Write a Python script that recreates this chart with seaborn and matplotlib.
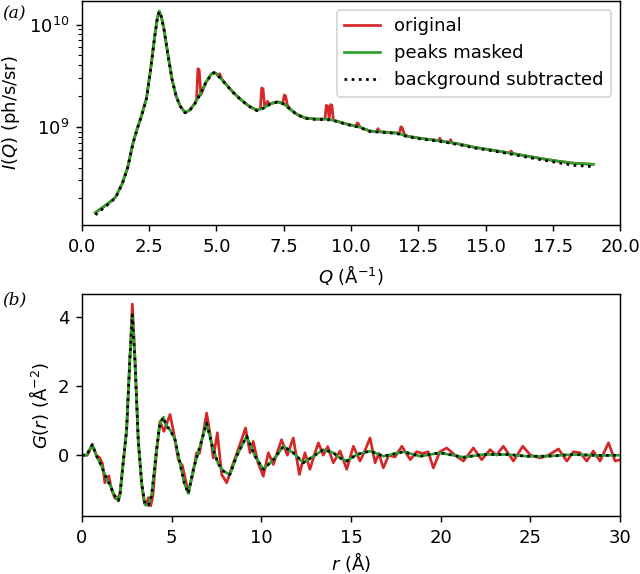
import numpy as np
import matplotlib
matplotlib.use("Agg")
import matplotlib.pyplot as plt
from matplotlib.ticker import MultipleLocator
import seaborn as sns

# --- (a) intensity vs Q ---
q_masked = [0.5, 0.8, 1.0, 1.25, 1.5, 1.7, 1.9, 2.05, 2.2, 2.4, 2.55, 2.7, 2.8, 2.87,
            2.95, 3.05, 3.2, 3.35, 3.5, 3.65, 3.83, 4.0, 4.2, 4.4, 4.6, 4.8, 4.9, 5.0,
            5.25, 5.6, 5.9, 6.2, 6.5, 6.8, 7.0, 7.25, 7.5, 7.75, 8.0, 8.3, 8.7, 9.1,
            9.4, 9.7, 10.0, 10.3, 10.7, 11.2, 11.7, 12.1, 12.6, 13.3, 14.0, 14.6,
            15.2, 15.8, 16.4, 17.0, 17.6, 18.3, 19.0]
i_masked = [1.45e8, 1.65e8, 1.8e8, 2.05e8, 2.8e8, 4.0e8, 7.0e8, 9.5e8, 1.25e9, 1.9e9,
            3.6e9, 7.5e9, 1.15e10, 1.35e10, 1.2e10, 9.0e9, 5.0e9, 2.9e9, 2.0e9, 1.6e9,
            1.38e9, 1.45e9, 1.7e9, 2.1e9, 2.7e9, 3.25e9, 3.4e9, 3.3e9, 2.8e9, 2.2e9,
            1.85e9, 1.6e9, 1.45e9, 1.55e9, 1.68e9, 1.75e9, 1.68e9, 1.48e9, 1.32e9,
            1.22e9, 1.19e9, 1.19e9, 1.15e9, 1.09e9, 1.04e9, 1.0e9, 9.1e8, 8.9e8,
            8.7e8, 8.1e8, 7.7e8, 7.3e8, 6.8e8, 6.3e8, 5.95e8, 5.6e8, 5.25e8, 4.93e8,
            4.65e8, 4.4e8, 4.3e8]
i_bgsub = [1.38e8, 1.6e8, 1.77e8, 2.02e8, 2.77e8, 3.97e8, 6.95e8, 9.45e8, 1.24e9, 1.89e9,
           3.58e9, 7.45e9, 1.14e10, 1.34e10, 1.19e10, 8.95e9, 4.97e9, 2.88e9, 1.99e9, 1.59e9,
           1.37e9, 1.44e9, 1.69e9, 2.09e9, 2.68e9, 3.23e9, 3.38e9, 3.28e9, 2.78e9, 2.19e9,
           1.84e9, 1.59e9, 1.44e9, 1.54e9, 1.67e9, 1.74e9, 1.67e9, 1.47e9, 1.31e9,
           1.21e9, 1.18e9, 1.18e9, 1.14e9, 1.08e9, 1.03e9, 9.9e8, 9.0e8, 8.8e8,
           8.6e8, 8.0e8, 7.6e8, 7.2e8, 6.7e8, 6.2e8, 5.85e8, 5.5e8, 5.12e8, 4.8e8,
           4.5e8, 4.2e8, 4.08e8]
q_orig = [0.5, 0.8, 1.0, 1.25, 1.5, 1.7, 1.9, 2.05, 2.2, 2.4, 2.55, 2.7, 2.8, 2.87,
          2.95, 3.05, 3.2, 3.35, 3.5, 3.65, 3.83, 4.0, 4.2, 4.26, 4.31, 4.36, 4.42,
          4.6, 4.8, 4.9, 5.0, 5.06, 5.12, 5.18, 5.25, 5.6, 5.9, 6.2, 6.5, 6.63, 6.68,
          6.73, 6.79, 6.85, 6.9, 6.95, 7.0, 7.25, 7.47, 7.52, 7.57, 7.63, 7.75, 8.0,
          8.3, 8.7, 9.03, 9.08, 9.13, 9.19, 9.24, 9.29, 9.34, 9.4, 9.7, 10.0, 10.18,
          10.23, 10.28, 10.33, 10.7, 10.95, 11.0, 11.05, 11.2, 11.7, 11.8, 11.85,
          11.9, 11.98, 12.1, 12.6, 13.25, 13.3, 13.35, 13.65, 13.7, 13.75, 14.0,
          14.6, 15.2, 15.8, 15.9, 15.95, 16.0, 16.4, 17.0, 17.6, 18.3, 19.0]
i_orig = [1.45e8, 1.65e8, 1.8e8, 2.05e8, 2.8e8, 4.0e8, 7.0e8, 9.5e8, 1.25e9, 1.9e9,
          3.6e9, 7.5e9, 1.15e10, 1.35e10, 1.2e10, 9.0e9, 5.0e9, 2.9e9, 2.0e9, 1.6e9,
          1.38e9, 1.45e9, 1.7e9, 1.85e9, 3.7e9, 3.6e9, 2.05e9,
          2.7e9, 3.25e9, 3.4e9, 3.3e9, 3.15e9, 3.3e9, 3.0e9, 2.8e9, 2.2e9, 1.85e9,
          1.6e9, 1.45e9, 1.5e9, 2.4e9, 2.35e9, 1.58e9, 1.62e9, 1.78e9, 1.64e9,
          1.68e9, 1.75e9, 1.72e9, 2.05e9, 2.0e9, 1.64e9, 1.48e9, 1.32e9,
          1.22e9, 1.19e9, 1.19e9, 1.62e9, 1.6e9, 1.2e9, 1.65e9, 1.62e9, 1.17e9,
          1.15e9, 1.09e9, 1.04e9, 1.01e9, 1.09e9, 1.07e9, 9.9e8, 9.1e8, 8.95e8,
          9.6e8, 8.95e8, 8.9e8, 8.7e8, 8.65e8, 1.0e9, 9.8e8, 8.5e8, 8.1e8, 7.7e8,
          7.35e8, 7.75e8, 7.3e8, 7.0e8, 7.5e8, 6.95e8, 6.8e8, 6.3e8, 5.95e8, 5.6e8,
          5.55e8, 5.8e8, 5.5e8, 5.25e8, 4.93e8, 4.65e8, 4.4e8, 4.3e8]

# --- (b) G(r) ---
r_masked = [0, 0.26, 0.58, 0.82, 1.1, 1.38, 1.56, 1.75, 1.9, 2.03, 2.12, 2.3, 2.49,
            2.68, 2.81, 2.96, 3.14, 3.33, 3.51, 3.7, 3.88, 4.16, 4.35, 4.54, 4.7,
            4.91, 5.19, 5.46, 5.7, 5.93, 6.21, 6.58, 6.95, 7.32, 7.6, 7.88, 8.25,
            8.62, 9.18, 9.65, 10.11, 10.67, 11.23, 11.78, 12.34, 12.9, 13.46, 14.01,
            14.39, 14.76, 15.32, 16.06, 16.8, 17.92, 18.85, 19.96, 21.26, 22.38,
            23.68, 24.8, 25.91, 27.4, 28.88, 30.0]
g_masked = [0, 0, 0.31, -0.03, -0.32, -0.70, -0.85, -1.09, -1.25, -1.32, -1.18, -0.22,
            0.74, 2.86, 4.07, 2.67, 0.45, -0.80, -1.43, -1.45, -1.18, 0.16, 0.93, 1.1,
            0.85, 0.74, 0.45, -0.22, -0.8, -1.11, -0.41, 0.26, 0.93, 0.16, -0.25,
            -0.46, -0.56, -0.03, 0.55, -0.03, -0.41, -0.13, 0.26, 0.07, -0.22, -0.03,
            0.16, 0.07, -0.08, -0.17, 0.02, 0.12, -0.03, 0.10, -0.03, 0.07, -0.06,
            0.02, 0.02, -0.03, -0.03, 0.02, -0.01, 0]
g_bgsub = g_masked
r_orig = [0, 0.3, 0.58, 0.8, 1.0, 1.15, 1.28, 1.4, 1.5, 1.65, 1.84, 2.0, 2.12, 2.3,
          2.49, 2.68, 2.81, 2.96, 3.14, 3.33, 3.45, 3.57, 3.7, 3.83, 3.95, 4.16, 4.35,
          4.57, 4.75, 4.91, 5.1, 5.37, 5.6, 5.93, 6.2, 6.39, 6.55, 6.75, 6.95, 7.15,
          7.32, 7.55, 7.79, 8.07, 8.44, 8.8, 9.12, 9.37, 9.55, 9.8, 10.11, 10.39,
          10.67, 10.9, 11.13, 11.45, 11.78, 12.12, 12.43, 12.71, 12.95, 13.18, 13.45,
          13.7, 14.01, 14.39, 14.76, 15.13, 15.5, 15.75, 16.06, 16.34, 16.55, 16.8,
          17.1, 17.45, 17.83, 18.3, 18.65, 19.0, 19.3, 19.59, 19.95, 20.33, 20.8,
          21.26, 21.82, 22.28, 22.75, 23.1, 23.49, 24.05, 24.57, 25.0, 25.54, 26.0,
          26.56, 27.03, 27.4, 27.77, 28.14, 28.5, 28.88, 29.35, 29.72, 30.0]
g_orig = [0, 0.0, 0.3, 0.0, -0.08, -0.25, -0.8, -0.65, -0.6, -1.0, -1.25, -1.25, -1.1,
          -0.2, 0.7, 2.9, 4.38, 2.8, 0.4, -0.85, -1.3, -1.45, -1.23, -1.47, -1.2, 0.1,
          0.98, 0.69, 0.95, 1.18, 0.7, -0.13, -0.3, -1.09, -0.5, 0.07, 0.05, 0.6, 1.22,
          0.6, -0.08, 0.65, -0.56, -0.80, -0.22, 0.3, 0.79, 0.07, 0.40, -0.2, -0.61,
          0.07, -0.27, 0.1, 0.45, 0.0, 0.50, -0.56, 0.07, -0.41, 0.0, 0.36, 0.0, 0.25,
          -0.22, 0.12, -0.41, 0.26, -0.17, 0.1, 0.50, -0.22, 0.05, -0.37, 0.0, -0.05,
          0.26, -0.13, 0.1, 0.05, 0.1, -0.37, 0.1, 0.21, 0.0, -0.17, 0.21, -0.13, 0.16,
          0.0, 0.26, -0.17, 0.26, 0.0, -0.08, 0.0, 0.18, -0.17, 0.1, 0.07, -0.17, 0.12,
          -0.17, 0.36, -0.17, -0.13]

red = "#d62728"
green = "#2ca02c"

fig = plt.figure(figsize=(640 / 130, 574 / 130), dpi=130)
ax1 = fig.add_axes([0.128, 1 - 225 / 574, 0.841, 224 / 574])
ax2 = fig.add_axes([0.128, 1 - 516 / 574, 0.841, 222 / 574])

# top panel
sns.lineplot(x=q_orig, y=i_orig, ax=ax1, color=red, lw=1.5, sort=False,
             estimator=None, label="original")
sns.lineplot(x=q_masked, y=i_masked, ax=ax1, color=green, lw=1.5, sort=False,
             estimator=None, label="peaks masked")
sns.lineplot(x=q_masked, y=i_bgsub, ax=ax1, color="black", lw=1.5, ls=":",
             sort=False, estimator=None, label="background subtracted")
ax1.set_yscale("log")
ax1.set_xlim(0, 20)
ax1.set_xlabel(r"$Q$ (Å$^{-1}$)")
ax1.set_ylabel(r"$I(Q)$ (ph/s/sr)")
ax1.legend(loc="upper right")

# bottom panel
sns.lineplot(x=r_orig, y=g_orig, ax=ax2, color=red, lw=1.5, sort=False,
             estimator=None, legend=False)
sns.lineplot(x=r_masked, y=g_masked, ax=ax2, color=green, lw=1.5, sort=False,
             estimator=None, legend=False)
sns.lineplot(x=r_masked, y=g_bgsub, ax=ax2, color="black", lw=1.5, ls=":",
             sort=False, estimator=None, legend=False)
ax2.set_xlim(0, 30)
ax2.yaxis.set_major_locator(MultipleLocator(2))
ax2.set_xlabel(r"$r$ (Å)", labelpad=2)
ax2.set_ylabel(r"$G(r)$ (Å$^{-2}$)")

fig.text(0.004, 1 - 18 / 574, "(a)", family="DejaVu Serif", style="italic",
         fontsize=9.5, va="baseline")
fig.text(0.004, 1 - 304 / 574, "(b)", family="DejaVu Serif", style="italic",
         fontsize=9.5, va="baseline")

fig.savefig("out.png", dpi=130)
